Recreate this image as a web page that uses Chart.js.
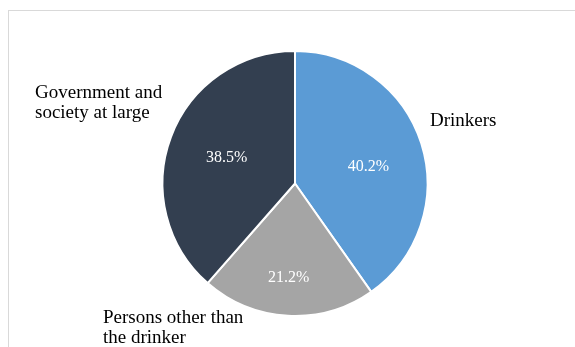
<!DOCTYPE html>
<html lang="en">
<head>
    <meta charset="UTF-8">
    <title>Cost of alcohol by bearer</title>
    <style>
        body {margin: 0; overflow: hidden; background: #fff; font-family: "Liberation Serif", serif;}
        .frame {position: absolute; left: 8px; top: 10px; width: 700px; height: 500px; border: 1px solid #d9d9d9;}
        .chart-wrap {position: absolute; left: 0; top: 0; width: 575px; height: 347px;}
    </style>
</head>
<body>
    <div class="frame"></div>
    <div class="chart-wrap">
        <canvas id="myChart"></canvas>
    </div>
    <script src="https://cdn.jsdelivr.net/npm/chart.js@4.4.1/dist/chart.umd.min.js"></script>
    <script>
        // data
        const labels = ['Drinkers', 'Persons other than the drinker', 'Government and society at large'];
        const shares = [40.2, 21.2, 38.5];
        const colors = ['#5b9bd5', '#a5a5a5', '#333f50'];

        // outer label lines, placed relative to the pie centre
        const outerLines = [
            {lines: ['Drinkers'], dx: 135, dy: -58},
            {lines: ['Persons other than', 'the drinker'], dx: -192, dy: 139},
            {lines: ['Government and', 'society at large'], dx: -260, dy: -86}
        ];
        // percent labels: fraction of radius, small angle nudge (deg)
        const innerPos = [{r: 0.567, a: 5}, {r: 0.71, a: 0.8}, {r: 0.552, a: 0}];

        const labelPlugin = {
            id: 'labelPlugin',
            afterDatasetsDraw(chart) {
                const ctx = chart.ctx;
                const arcs = chart.getDatasetMeta(0).data;
                ctx.save();
                arcs.forEach((arc, i) => {
                    const p = arc.getProps(['x', 'y', 'startAngle', 'endAngle', 'outerRadius'], true);
                    const mid = (p.startAngle + p.endAngle) / 2 + innerPos[i].a * Math.PI / 180;
                    const r = p.outerRadius * innerPos[i].r;
                    ctx.font = '16px "Liberation Serif"';
                    ctx.fillStyle = '#ffffff';
                    ctx.textAlign = 'center';
                    ctx.textBaseline = 'middle';
                    ctx.fillText(shares[i].toFixed(1) + '%', p.x + Math.cos(mid) * r, p.y + Math.sin(mid) * r);

                    const o = outerLines[i];
                    ctx.font = '19px "Liberation Serif"';
                    ctx.fillStyle = '#000000';
                    ctx.textAlign = 'left';
                    ctx.textBaseline = 'alphabetic';
                    o.lines.forEach((t, k) => {
                        ctx.fillText(t, p.x + o.dx, p.y + o.dy + k * 20);
                    });
                });
                ctx.restore();
            }
        };

        function drawChart() {
            const ctx = document.getElementById('myChart').getContext('2d');
            new Chart(ctx, {
                type: 'pie',
                plugins: [labelPlugin],
                data: {
                    labels: labels,
                    datasets: [{
                        data: shares,
                        backgroundColor: colors,
                        borderColor: '#ffffff',
                        borderWidth: 2
                    }]
                },
                options: {
                    responsive: true,
                    maintainAspectRatio: false,
                    animation: false,
                    layout: {padding: {left: 99, right: 84, top: 50, bottom: 30}},
                    plugins: {
                        legend: {display: false},
                        tooltip: {enabled: false}
                    }
                }
            });
        }

        // make sure the serif font is ready before the canvas uses it
        Promise.all([
            document.fonts.load('16px "Liberation Serif"'),
            document.fonts.load('19px "Liberation Serif"')
        ]).then(drawChart, drawChart);
    </script>
</body>
</html>
